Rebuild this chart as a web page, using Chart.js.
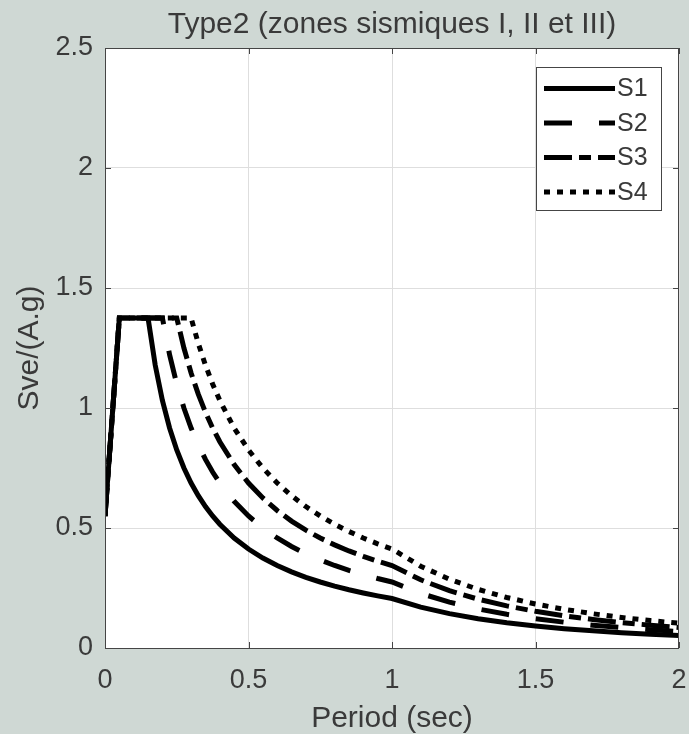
<!DOCTYPE html>
<html lang="fr">
<head>
<meta charset="UTF-8" />
<title>Type2 (zones sismiques I, II et III)</title>
<script src="https://cdn.jsdelivr.net/npm/chart.js"></script>
<style>
  body { margin: 0; background: #cfd8d4; }
  .grafico { width: 689px; height: 734px; }
</style>
</head>
<body>
<div class="grafico"><canvas id="spectreChart"></canvas></div>

<script>
  // périodes (s) et spectre vertical normalisé Sve/(A.g) pour chaque site
  const periodes = [0, 0.05, 0.1, 0.15, 0.175, 0.2, 0.225, 0.25, 0.275, 0.3, 0.325, 0.35, 0.375, 0.4,
    0.45, 0.5, 0.55, 0.6, 0.65, 0.7, 0.75, 0.8, 0.85, 0.9, 0.95, 1.0,
    1.1, 1.2, 1.3, 1.4, 1.5, 1.6, 1.7, 1.8, 1.9, 2.0];

  const s1 = [0.55, 1.375, 1.375, 1.375, 1.1786, 1.0313, 0.9167, 0.825, 0.75, 0.6875, 0.6346, 0.5893, 0.55, 0.5156,
    0.4583, 0.4125, 0.375, 0.3438, 0.3173, 0.2946, 0.275, 0.2578, 0.2426, 0.2292, 0.2171, 0.2063,
    0.1705, 0.1432, 0.1220, 0.1052, 0.0917, 0.0806, 0.0714, 0.0637, 0.0571, 0.0516];

  const s2 = [0.55, 1.375, 1.375, 1.375, 1.375, 1.375, 1.2222, 1.1, 1.0, 0.9167, 0.8462, 0.7857, 0.7333, 0.6875,
    0.6111, 0.55, 0.5, 0.4583, 0.4231, 0.3929, 0.3667, 0.3438, 0.3235, 0.3056, 0.2895, 0.275,
    0.2273, 0.1910, 0.1627, 0.1403, 0.1222, 0.1074, 0.0952, 0.0849, 0.0762, 0.0688];

  const s3 = [0.55, 1.375, 1.375, 1.375, 1.375, 1.375, 1.375, 1.375, 1.25, 1.1458, 1.0577, 0.9821, 0.9167, 0.8594,
    0.7639, 0.6875, 0.625, 0.5729, 0.5288, 0.4911, 0.4583, 0.4297, 0.4044, 0.3819, 0.3618, 0.3438,
    0.2841, 0.2387, 0.2034, 0.1754, 0.1528, 0.1343, 0.1189, 0.1061, 0.0952, 0.0859];

  const s4 = [0.55, 1.375, 1.375, 1.375, 1.375, 1.375, 1.375, 1.375, 1.375, 1.375, 1.2692, 1.1786, 1.1, 1.0313,
    0.9167, 0.825, 0.75, 0.6875, 0.6346, 0.5893, 0.55, 0.5156, 0.4853, 0.4583, 0.4342, 0.4125,
    0.3409, 0.2865, 0.2441, 0.2105, 0.1833, 0.1611, 0.1427, 0.1273, 0.1143, 0.1031];

  const nomsSites = ['S1', 'S2', 'S3', 'S4'];
  const ticksX = [0, 0.5, 1, 1.5, 2];
  const ticksY = [0, 0.5, 1, 1.5, 2, 2.5];

  const titre = 'Type2 (zones sismiques I, II et III)';
  const couleurTexte = '#3a3a3a';
  const couleurAxe = '#454545';
  const police = '"Liberation Sans", Arial, sans-serif';

  // style des traits : plein, tirets, tiret-point, pointillé
  const tirets = [[], [28, 27], [28, 7, 12, 7], [6, 7]];

  const series = [s1, s2, s3, s4];
  const datasets = series.map((valeurs, i) => ({
    label: nomsSites[i],
    data: periodes.map((t, k) => ({ x: t, y: valeurs[k] })),
    borderColor: '#000000',
    borderWidth: 5,
    borderDash: tirets[i],
    borderCapStyle: 'butt',
    borderJoinStyle: 'miter',
    pointRadius: 0,
    fill: false
  }));

  // fond, cadre des axes, graduations intérieures, titre et légende
  const cadre = {
    id: 'cadre',
    beforeDraw(chart) {
      const { ctx, chartArea: a } = chart;
      ctx.save();
      ctx.fillStyle = '#cfd8d4';
      ctx.fillRect(0, 0, chart.width, chart.height);
      ctx.fillStyle = '#ffffff';
      ctx.fillRect(a.left, a.top, a.right - a.left, a.bottom - a.top);
      ctx.restore();
    },
    afterDraw(chart) {
      const { ctx, chartArea: a, scales } = chart;
      ctx.save();

      ctx.strokeStyle = couleurAxe;
      ctx.lineWidth = 1;
      ctx.setLineDash([]);
      ctx.strokeRect(a.left + 0.5, a.top + 0.5, a.right - a.left - 1, a.bottom - a.top);

      ctx.beginPath();
      ticksX.forEach(v => {
        const x = Math.round(scales.x.getPixelForValue(v)) + 0.5;
        ctx.moveTo(x, a.bottom); ctx.lineTo(x, a.bottom - 6);
        ctx.moveTo(x, a.top); ctx.lineTo(x, a.top + 6);
      });
      ticksY.forEach(v => {
        const y = Math.round(scales.y.getPixelForValue(v)) + 0.5;
        ctx.moveTo(a.left, y); ctx.lineTo(a.left + 6, y);
        ctx.moveTo(a.right, y); ctx.lineTo(a.right - 6, y);
      });
      ctx.stroke();

      ctx.fillStyle = couleurTexte;
      ctx.font = '30px ' + police;
      ctx.textAlign = 'center';
      ctx.textBaseline = 'middle';
      ctx.fillText(titre, (a.left + a.right) / 2, 25);

      // légende
      const bx = 536, by = 67, bw = 125, bh = 143;
      ctx.fillStyle = '#ffffff';
      ctx.fillRect(bx, by, bw, bh);
      ctx.strokeStyle = couleurAxe;
      ctx.lineWidth = 1;
      ctx.strokeRect(bx + 0.5, by + 0.5, bw, bh);

      ctx.font = '25px ' + police;
      ctx.textAlign = 'left';
      chart.data.datasets.forEach((ds, i) => {
        const y = 88.5 + i * 34.5;
        ctx.strokeStyle = ds.borderColor;
        ctx.lineWidth = ds.borderWidth;
        ctx.lineCap = 'butt';
        ctx.setLineDash(ds.borderDash);
        ctx.beginPath();
        ctx.moveTo(544, y);
        ctx.lineTo(615, y);
        ctx.stroke();
        ctx.fillStyle = couleurTexte;
        ctx.fillText(ds.label, 617, y + 1);
      });

      ctx.restore();
    }
  };

  const ctx = document.getElementById('spectreChart').getContext('2d');

  const spectreChart = new Chart(ctx, {
    type: 'line',
    data: { datasets: datasets },
    plugins: [cadre],
    options: {
      responsive: true,
      maintainAspectRatio: false,
      animation: false,
      layout: { padding: { top: 48, right: 10, left: 0, bottom: 0 } },
      scales: {
        x: {
          type: 'linear',
          min: 0,
          max: 2,
          afterBuildTicks: s => { s.ticks = ticksX.map(v => ({ value: v })); },
          afterFit: s => {
            s.height = 86;
            s.paddingLeft = 0;
            s.paddingRight = 0;
          },
          ticks: {
            color: couleurTexte,
            font: { family: police, size: 27 },
            padding: 16,
            maxRotation: 0,
            callback: v => String(v)
          },
          grid: { color: '#dedede', lineWidth: 1, drawTicks: false },
          border: { display: false },
          title: {
            display: true,
            text: 'Period (sec)',
            color: couleurTexte,
            font: { family: police, size: 30, lineHeight: 1 },
            padding: { top: 0, bottom: 0 }
          }
        },
        y: {
          min: 0,
          max: 2.5,
          afterBuildTicks: s => { s.ticks = ticksY.map(v => ({ value: v })); },
          afterFit: s => {
            s.width = 105;
            s.paddingTop = 0;
            s.paddingBottom = 0;
          },
          ticks: {
            color: couleurTexte,
            font: { family: police, size: 27 },
            padding: 12,
            callback: v => String(v)
          },
          grid: { color: '#dedede', lineWidth: 1, drawTicks: false },
          border: { display: false },
          title: {
            display: true,
            text: 'Sve/(A.g)',
            color: couleurTexte,
            font: { family: police, size: 30, lineHeight: 1 },
            padding: { top: 15, bottom: 0 }
          }
        }
      },
      plugins: {
        legend: { display: false },
        tooltip: { enabled: false },
        title: { display: false }
      }
    }
  });
</script>
</body>
</html>
